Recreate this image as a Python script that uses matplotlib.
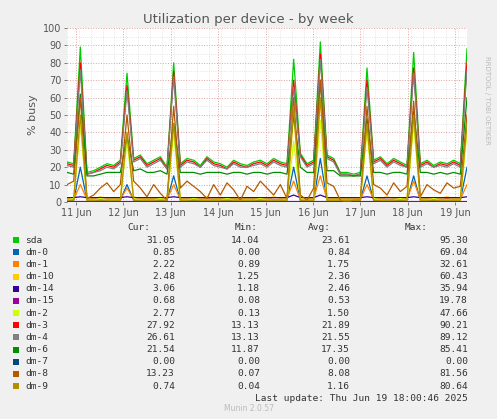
import numpy as np
import matplotlib
matplotlib.use("Agg")
import matplotlib.pyplot as plt

names = ["sda","dm-0","dm-1","dm-10","dm-14","dm-15","dm-2","dm-3","dm-4","dm-6","dm-7","dm-8","dm-9"]
colors = ["#00CC00","#0066B3","#FF8000","#FFCC00","#330099","#990099","#CCFF00","#FF0000","#808080","#008F00","#00487D","#B35A00","#B38F00"]
cur = ["31.05","0.85","2.22","2.48","3.06","0.68","2.77","27.92","26.61","21.54","0.00","13.23","0.74"]
mins = ["14.04","0.00","0.89","1.25","1.18","0.08","0.13","13.13","13.13","11.87","0.00","0.07","0.04"]
avgs = ["23.61","0.84","1.75","2.36","2.46","0.53","1.50","21.89","21.55","17.35","0.00","8.08","1.16"]
maxs = ["95.30","69.04","32.61","60.43","35.94","19.78","47.66","90.21","89.12","85.41","0.00","81.56","80.64"]

day_labels = ["11 Jun","12 Jun","13 Jun","14 Jun","15 Jun","16 Jun","17 Jun","18 Jun","19 Jun"]

sda = [23,22,89,17,18,20,22,21,24,74,25,27,22,24,26,20,80,22,25,24,21,26,23,22,20,24,22,21,23,24,22,25,23,22,82,28,22,24,92,27,25,17,17,16,17,77,24,26,22,25,23,21,86,22,24,21,23,22,24,22,88]
dm3 = [22,21,80,16,17,19,21,20,23,67,24,26,21,23,25,19,75,21,24,23,20,25,22,21,19,23,21,20,22,23,21,24,22,21,70,27,21,23,85,26,24,16,16,15,16,70,23,25,21,24,22,20,77,21,23,20,22,21,23,21,80]
dm4 = [21,20,76,16,17,18,20,19,22,64,23,25,20,22,24,19,72,20,23,22,20,24,21,20,19,22,20,20,21,22,20,23,21,20,66,26,20,22,82,25,23,16,16,15,16,66,22,24,20,23,21,20,74,20,22,20,21,20,22,20,76]
dm6 = [17,16,62,15,15,16,17,17,17,38,18,19,17,17,18,16,45,17,17,17,16,17,17,17,16,17,17,16,17,17,16,17,17,16,50,20,17,17,70,18,18,15,15,15,15,48,17,17,16,17,17,16,52,17,17,16,17,16,17,16,60]
dm8 = [10,12,60,2,4,8,11,6,10,50,12,8,3,10,5,1,55,8,12,9,6,2,10,4,11,7,1,9,6,12,8,4,10,2,60,4,1,8,70,11,9,1,0,1,1,55,10,8,4,11,6,9,58,3,10,7,5,11,8,9,50]
dm2 = [1,2,45,1,1,2,1,1,1,35,2,1,1,1,2,1,40,1,1,2,1,1,1,1,2,1,1,1,1,2,1,1,1,1,35,2,1,1,47,1,1,1,1,1,1,40,2,1,1,1,2,1,45,1,1,2,1,1,1,1,40]
dm10 = [2,2,45,2,2,3,2,2,2,40,3,2,2,2,2,2,45,2,2,2,2,3,2,2,2,2,2,2,2,2,2,3,2,2,50,3,2,2,60,2,2,2,2,2,2,45,2,2,3,2,2,2,50,2,2,2,2,3,2,2,45]
dm14 = [2.5,2.5,3,2.5,2.5,2.5,2.5,2.5,2.5,3,2.5,2.5,2.5,2.5,2.5,2.5,3,2.5,2.5,2.5,2.5,2.5,2.5,2.5,2.5,2.5,2.5,2.5,2.5,2.5,2.5,2.5,2.5,2.5,4,2.5,2.5,2.5,4,2.5,2.5,2.5,2.5,2.5,2.5,3,2.5,2.5,2.5,2.5,2.5,2.5,3,2.5,2.5,2.5,2.5,2.5,2.5,2.5,3]
dm0 = [1,1,20,1,1,1,1,1,1,10,1,1,1,1,1,1,15,1,1,1,1,1,1,1,1,1,1,1,1,1,1,1,1,1,20,1,1,1,25,1,1,1,1,1,1,15,1,1,1,1,1,1,15,1,1,1,1,1,1,1,20]
dm1 = [1.5,1.5,10,1.5,2,1.5,1.5,2,1.5,8,1.5,2,1.5,1.5,2,1.5,10,1.5,2,1.5,1.5,2,1.5,1.5,2,1.5,1.5,2,1.5,1.5,2,1.5,1.5,2,12,1.5,1.5,2,15,1.5,1.5,1.5,1.5,1.5,1.5,10,1.5,2,1.5,1.5,2,1.5,12,1.5,2,1.5,1.5,2,1.5,1.5,10]
dm15 = [0.5]*61
dm7 = [0]*61
dm9 = [1,1,50,1,1,1,1,1,1,40,1,1,1,1,1,1,45,1,1,1,1,1,1,1,1,1,1,1,1,1,1,1,1,1,55,1,1,1,60,1,1,1,1,1,1,45,1,1,1,1,1,1,50,1,1,1,1,1,1,1,45]

series = [sda,dm0,dm1,dm10,dm14,dm15,dm2,dm3,dm4,dm6,dm7,dm8,dm9]

W, H = 497, 419
fig = plt.figure(figsize=(W/100, H/100), dpi=100, facecolor="#F0F0F0")
L, R, T, B = 67, 467, 28, 202
ax = fig.add_axes([L/W, 1-B/H, (R-L)/W, (B-T)/H])
ax.set_facecolor("white")
span = (R-L)/47.4
x = np.linspace(0, span, 61)
for s, c in zip(series, colors):
    ax.plot(x, s, color=c, lw=0.9)
ax.set_xlim(0, span)
ax.set_ylim(0, 100)
ticks = [(76-L)/47.4 + i for i in range(9)]
ax.set_xticks(ticks)
ax.set_xticklabels(day_labels)
ax.set_xticks(np.arange(0, span, 0.25), minor=True)
ax.set_yticks(np.arange(0, 101, 10))
ax.set_yticks(np.arange(0, 101, 5), minor=True)
ax.grid(which="minor", color="#DDDDDD", ls=":", lw=0.6)
ax.grid(which="major", color="#E0A0A0", ls=":", lw=0.7)
ax.set_axisbelow(True)
for sp in ax.spines.values():
    sp.set_visible(False)
ax.tick_params(labelsize=7, colors="#555555", length=2, width=0.5, pad=2)
ax.tick_params(which="minor", length=0)
ax.set_ylabel("% busy", fontsize=8, color="#555555")

fig.text(0.5, 1-19/H, "Utilization per device - by week", ha="center", va="center", fontsize=9.5, color="#555555")
fig.text(487/W, 1-100/H, "RRDTOOL / TOBI OETIKER", rotation=270, ha="center", va="center", fontsize=5, color="#BBBBBB")

mono = dict(family="DejaVu Sans Mono", fontsize=6.8, color="#333333", va="center")
hy = 227
fig.text(150/W, 1-hy/H, "Cur:", ha="right", **mono)
fig.text(258/W, 1-hy/H, "Min:", ha="right", **mono)
fig.text(331/W, 1-hy/H, "Avg:", ha="right", **mono)
fig.text(428/W, 1-hy/H, "Max:", ha="right", **mono)
for i, n in enumerate(names):
    y = 240 + i*12.17
    fig.patches.append(plt.Rectangle((13/W, 1-(y+3)/H), 6/W, 6/H, transform=fig.transFigure, facecolor=colors[i], edgecolor="none"))
    fig.text(25/W, 1-y/H, n, ha="left", **mono)
    fig.text(175/W, 1-y/H, cur[i], ha="right", **mono)
    fig.text(260/W, 1-y/H, mins[i], ha="right", **mono)
    fig.text(350/W, 1-y/H, avgs[i], ha="right", **mono)
    fig.text(468/W, 1-y/H, maxs[i], ha="right", **mono)
fig.text(468/W, 1-398/H, "Last update: Thu Jun 19 18:00:46 2025", ha="right", **mono)
fig.text(0.5, 1-408/H, "Munin 2.0.57", ha="center", va="center", fontsize=5.5, color="#BBBBBB")
fig.savefig("out.png", dpi=100, facecolor=fig.get_facecolor())
